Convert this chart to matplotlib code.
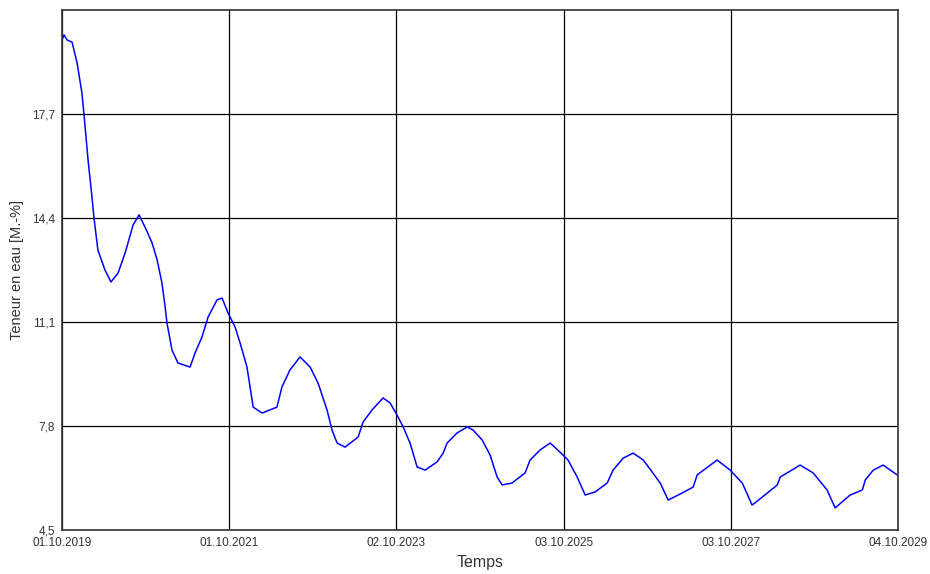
import numpy as np
import pandas as pd
import matplotlib
matplotlib.use("Agg")
import matplotlib.pyplot as plt

plt.rcParams['font.family'] = ['Liberation Sans', 'DejaVu Sans']

# water content over time
dates = ['2019-10-01', '2019-10-10', '2019-10-23', '2019-11-14', '2019-12-06',
         '2019-12-27', '2020-01-05', '2020-01-23', '2020-02-09', '2020-02-18',
         '2020-03-06', '2020-04-06', '2020-05-02', '2020-06-02', '2020-07-03',
         '2020-08-07', '2020-09-02', '2020-09-28', '2020-10-29', '2020-11-20',
         '2020-12-11', '2020-12-25', '2021-01-02', '2021-01-24', '2021-02-19',
         '2021-04-13', '2021-05-05', '2021-06-04', '2021-07-01', '2021-08-09',
         '2021-08-31', '2021-09-26', '2021-10-27', '2021-11-18', '2021-12-18',
         '2022-01-14', '2022-02-22', '2022-04-28', '2022-05-20', '2022-06-24',
         '2022-08-07', '2022-09-20', '2022-10-25', '2022-12-03', '2022-12-25',
         '2023-01-16', '2023-02-20', '2023-04-18', '2023-05-10', '2023-06-18',
         '2023-08-05', '2023-09-05', '2023-10-05', '2023-11-01', '2023-12-01',
         '2024-01-01', '2024-02-05', '2024-03-28', '2024-04-24', '2024-05-11',
         '2024-06-24', '2024-08-07', '2024-09-02', '2024-10-11', '2024-11-15',
         '2024-12-16', '2025-01-07', '2025-02-19', '2025-04-17', '2025-05-09',
         '2025-06-22', '2025-08-05', '2025-09-17', '2025-10-22', '2025-12-01',
         '2026-01-05', '2026-02-18', '2026-04-11', '2026-05-07', '2026-06-20',
         '2026-08-03', '2026-09-16', '2026-10-25', '2026-11-29', '2027-01-03',
         '2027-02-24', '2027-04-22', '2027-05-10', '2027-08-05', '2027-10-01',
         '2027-11-23', '2028-01-05', '2028-03-11', '2028-04-24', '2028-05-07',
         '2028-08-02', '2028-09-28', '2028-11-28', '2029-01-02', '2029-03-09',
         '2029-05-01', '2029-05-14', '2029-06-18', '2029-07-31', '2029-09-30']
teneur = [20.05, 20.21, 20.05, 19.98, 19.32,
          18.37, 17.70, 16.24, 15.07, 14.40,
          13.38, 12.75, 12.37, 12.65, 13.29,
          14.18, 14.50, 14.11, 13.61, 13.07,
          12.34, 11.58, 11.07, 10.21, 9.80,
          9.67, 10.12, 10.62, 11.26, 11.80,
          11.86, 11.39, 10.94, 10.43, 9.67,
          8.40, 8.21, 8.40, 9.04, 9.58,
          9.99, 9.67, 9.16, 8.31, 7.67,
          7.26, 7.13, 7.45, 7.93, 8.31,
          8.69, 8.53, 8.15, 7.77, 7.26,
          6.50, 6.40, 6.66, 6.94, 7.26,
          7.58, 7.77, 7.67, 7.36, 6.88,
          6.18, 5.93, 5.99, 6.31, 6.72,
          7.04, 7.26, 6.97, 6.72, 6.18,
          5.61, 5.71, 5.99, 6.40, 6.78,
          6.94, 6.72, 6.34, 5.99, 5.45,
          5.64, 5.86, 6.25, 6.72, 6.40,
          5.99, 5.29, 5.67, 5.93, 6.18,
          6.56, 6.31, 5.77, 5.20, 5.61,
          5.77, 6.09, 6.40, 6.56, 6.25]

xtick_dates = ['2019-10-01', '2021-10-01', '2023-10-02', '2025-10-03',
               '2027-10-03', '2029-10-04']
xtick_labels = ['01.10.2019', '01.10.2021', '02.10.2023', '03.10.2025',
                '03.10.2027', '04.10.2029']
yticks = [4.5, 7.8, 11.1, 14.4, 17.7]

t = pd.to_datetime(dates)

fig = plt.figure(figsize=(9.3, 5.74), dpi=100)
ax = fig.add_axes([62/930, 1 - 530/574, 836/930, 520/574])

ax.plot(t, teneur, color='#0000ff', lw=1.1)

ax.set_xlim(pd.Timestamp(xtick_dates[0]), pd.Timestamp(xtick_dates[-1]))
ax.set_ylim(4.5, 21.0)

ax.set_xticks(pd.to_datetime(xtick_dates))
ax.set_xticklabels(xtick_labels)
ax.set_yticks(yticks)
ax.set_yticklabels([f'{v:.1f}'.replace('.', ',') for v in yticks])

ax.grid(True, color='black', lw=0.9)
ax.set_axisbelow(True)
for s in ax.spines.values():
    s.set_color('#333333')
    s.set_linewidth(1.2)
ax.tick_params(length=0, pad=5, labelsize=8.5, colors='#333333')

ax.set_xlabel('Temps', fontsize=11.5, color='#333333', labelpad=4)
ax.set_ylabel('Teneur en eau [M.-%]', fontsize=10.5, color='#333333', labelpad=6)

fig.savefig('out.png', dpi=100)
